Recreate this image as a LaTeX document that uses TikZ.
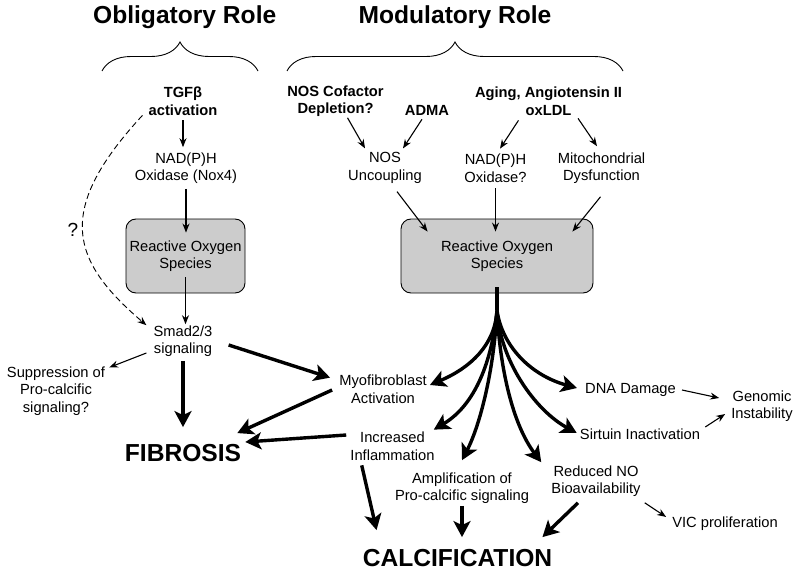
\documentclass[tikz,border=0pt]{standalone}
\usepackage{fontspec}
\setmainfont{Liberation Sans}
\usetikzlibrary{arrows.meta,decorations.pathreplacing}

\begin{document}
\begin{tikzpicture}[x=1pt, y=-1pt,
    txt/.style={align=center, inner sep=0pt, font=\fontsize{14.7}{17.5}\selectfont},
    hdr/.style={txt, font=\fontsize{14.7}{17.5}\selectfont\bfseries},
    big/.style={inner sep=0pt, font=\fontsize{24.6}{28}\selectfont\bfseries},
    rosbox/.style={txt, draw, line width=0.9pt, fill=gray!40, rounded corners=10pt, minimum height=74pt},
    arr/.style={line width=1.1pt, -{Stealth[length=9pt,width=7pt]}},
    fat/.style={line width=3.4pt, -{Stealth[length=16pt,width=17pt,inset=4pt]}}]
    \useasboundingbox (0,0) rectangle (800,575);

    % Titles and braces
    \node[big] (oblig) at (184.7,17) {Obligatory Role};
    \node[big] (modul) at (455,17) {Modulatory Role};
    \draw[line width=0.9pt, decorate, decoration={brace, amplitude=29pt}] (102,71) -- (258,71);
    \draw[line width=0.9pt, decorate, decoration={brace, amplitude=29pt}] (287,71) -- (623,71);

    % Triggers
    \node[hdr] (tgf) at (183,101) {TGFβ\\activation};
    \node[hdr] (cof) at (335.5,101) {NOS Cofactor\\Depletion?};
    \node[hdr] (adma) at (427,110) {ADMA};
    \node[hdr] (aging) at (548.5,101) {Aging, Angiotensin II\\oxLDL};

    % Sources
    \node[txt] (nox4) at (186,168) {NAD(P)H\\Oxidase (Nox4)};
    \node[txt] (nos) at (385,168) {NOS\\Uncoupling};
    \node[txt] (nox) at (495.5,168) {NAD(P)H\\Oxidase?};
    \node[txt] (mito) at (601.5,168) {Mitochondrial\\Dysfunction};

    % ROS boxes
    \node[rosbox, minimum width=119pt] (rosL) at (185.5,256) {Reactive Oxygen\\Species};
    \node[rosbox, minimum width=192pt] (rosR) at (497,256) {Reactive Oxygen\\Species};

    % Left branch
    \node[txt] (smad) at (183,341) {Smad2/3\\signaling};
    \node[txt] (supp) at (56,391) {Suppression of\\Pro-calcific\\signaling?};
    \node[big] (fib) at (183,453) {FIBROSIS};
    \node[txt, font=\fontsize{19}{22}\selectfont] (q) at (73,230) {?};

    % Right branch
    \node[txt] (myo) at (383,389) {Myofibroblast\\Activation};
    \node[txt] (infl) at (392.5,446) {Increased\\Inflammation};
    \node[txt] (amp) at (462,488) {Amplification of\\Pro-calcific signaling};
    \node[txt] (redno) at (596,481) {Reduced NO\\Bioavailability};
    \node[txt] (vic) at (725,524) {VIC proliferation};
    \node[txt] (dna) at (630.5,390) {DNA Damage};
    \node[txt] (sirt) at (640,434) {Sirtuin Inactivation};
    \node[txt] (gen) at (762,406) {Genomic\\Instability};
    \node[big] (calc) at (457.5,558) {CALCIFICATION};

    % Thin arrows, left
    \draw[arr, shorten <=5pt, shorten >=5pt] (tgf.south) -- (tgf.south |- nox4.north);
    \draw[arr, shorten <=5pt, shorten >=-14pt] (nox4.south) -- (nox4.south |- rosL.north);
    \draw[arr, shorten <=-16pt, shorten >=1pt] (rosL.south) -- (rosL.south |- smad.north);
    \draw[arr, line width=0.9pt, dash pattern=on 6pt off 3.5pt] ([xshift=-6pt]tgf.south west) .. controls (55,210) and (70,260) .. ([xshift=-7pt]smad.north west);
    \draw[arr] ([xshift=-7pt,yshift=-12pt]smad.west) -- ([xshift=4pt,yshift=-1pt]supp.north east);

    % Thin arrows, right
    \draw[arr] ([xshift=12pt,yshift=-1pt]cof.south) -- ([xshift=-20pt,yshift=4pt]nos.north);
    \draw[arr] ([xshift=-5pt,yshift=-4pt]adma.south) -- ([xshift=18pt,yshift=4pt]nos.north);
    \draw[arr] ([xshift=-30pt,yshift=-5pt]aging.south) -- ([xshift=4.5pt,yshift=5pt]nox.north);
    \draw[arr] ([xshift=29.5pt,yshift=-3pt]aging.south) -- ([xshift=-4.5pt,yshift=6pt]mito.north);
    \draw[arr] ([xshift=12pt,yshift=-8pt]nos.south) -- ([xshift=27pt,yshift=-13pt]rosR.north west);
    \draw[arr, shorten <=6pt, shorten >=-13pt] (nox.south) -- (nox.south |- rosR.north);
    \draw[arr] ([xshift=-1pt,yshift=-13pt]mito.south) -- ([xshift=-21pt,yshift=-13pt]rosR.north east);
    \draw[arr] ([xshift=6pt]dna.east) -- ([xshift=-12pt,yshift=8pt]gen.west);
    \draw[arr] ([xshift=5pt,yshift=7pt]sirt.east) -- ([xshift=-6pt,yshift=-8pt]gen.west);
    \draw[arr] ([xshift=4pt,yshift=-6pt]redno.south east) -- ([xshift=-6pt]vic.north west);

    % Thick arrows
    \draw[fat, shorten <=4pt, shorten >=17pt] (smad.south) -- (smad.south |- fib.north);
    \draw[fat] ([xshift=16pt,yshift=-4pt]smad.east) -- ([xshift=-9pt,yshift=-3pt]myo.north west);
    \draw[fat] ([xshift=-7pt,yshift=-1pt]myo.west) -- ([xshift=-4pt,yshift=11pt]fib.north east);
    \draw[fat] ([xshift=-4pt,yshift=11pt]infl.west) -- ([xshift=4pt,yshift=11pt]fib.east);
    \draw[fat] ([xshift=11.5pt,yshift=-5pt]infl.south west) -- ([xshift=14pt,yshift=19pt]calc.north west);
    \draw[fat, shorten <=2pt, shorten >=12pt] (amp.south) -- (amp.south |- calc.north);
    \draw[fat] ([xshift=-18pt,yshift=-6pt]redno.south) -- ([xshift=-10pt,yshift=12pt]calc.north east);

    % Fan from ROS
    \coordinate (fan) at ([yshift=-17pt]rosR.south);
    \draw[line width=3.4pt, shorten <=-6pt] (rosR.south) -- (fan);
    \draw[fat] (fan) .. controls +(-2,35) and +(40,-17) .. ([xshift=3pt,yshift=4pt]myo.east);
    \draw[fat] (fan) .. controls +(-5,50) and +(42,-25) .. ([xshift=-1pt,yshift=2pt]infl.north east);
    \draw[fat] (fan) .. controls +(-3,60) and +(18,-35) .. ([yshift=12pt]amp.north);
    \draw[fat] (fan) .. controls +(3,60) and +(-28,-37) .. ([xshift=-10pt,yshift=3pt]redno.north west);
    \draw[fat] (fan) .. controls +(3,50) and +(-42,-23) .. ([xshift=-3pt,yshift=1pt]sirt.west);
    \draw[fat] (fan) .. controls +(5,35) and +(-47,-13) .. ([xshift=-8pt,yshift=2pt]dna.west);
\end{tikzpicture}
\end{document}
